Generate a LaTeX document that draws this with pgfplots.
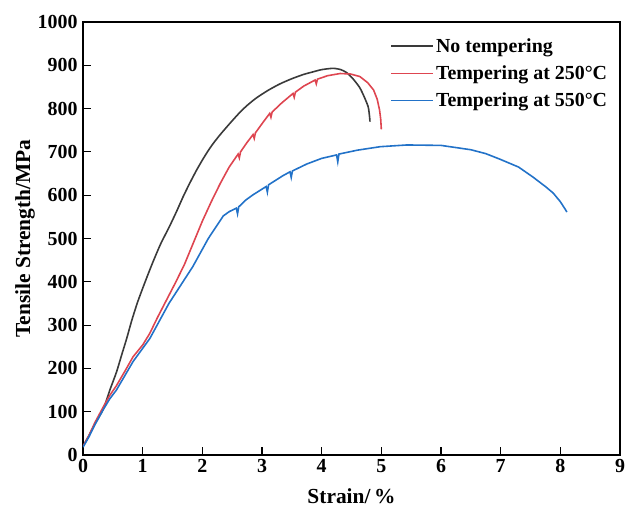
\documentclass[border=0pt]{standalone}
\usepackage{fontspec}
\setmainfont{Liberation Serif}
\usepackage{pgfplots}
\pgfplotsset{compat=1.18}
\definecolor{cblack}{HTML}{3A3A3A}
\definecolor{cred}{HTML}{DE4550}
\definecolor{cblue}{HTML}{2272C8}
\begin{document}
\begin{tikzpicture}
\useasboundingbox (-83bp,-55bp) rectangle (543bp,455bp);
\begin{axis}[
  scale only axis,
  width=537bp, height=433bp,
  xmin=0, xmax=9, ymin=0, ymax=1000,
  xtick={0,1,...,9}, ytick={0,100,...,1000},
  axis line style={line width=1.4pt, black},
  xtick style={line width=1.1pt, draw=black},
  ytick style={line width=1.1pt, draw=black},
  tick align=inside,
  major tick length=8bp,
  xtick pos=bottom,
  ytick pos=left,
  /pgf/number format/assume math mode=true,
  /pgf/number format/set thousands separator={},
  tick label style={font=\bfseries\fontsize{20}{22}\selectfont},
  xticklabel style={yshift=-1bp},
  yticklabel style={xshift=-2bp},
  xlabel={Strain/\,\%},
  ylabel={Tensile Strength/MPa},
  label style={font=\bfseries\fontsize{21.5}{24}\selectfont},
  xlabel style={at={(axis description cs:0.5,0)}, anchor=north, yshift=-30bp},
  ylabel style={at={(axis description cs:-0.108,0.5)}, anchor=center},
  legend style={at={(0.567,0.972)}, anchor=north west, draw=none, fill=none,
    font=\bfseries\fontsize{20}{22}\selectfont, row sep=8bp,
    cells={anchor=west}},
  legend image code/.code={\draw[#1, line width=1.4pt] (0bp,0bp) -- (42bp,0bp);},
]
\addplot[cblack, line width=1.6pt, smooth, tension=0.4] coordinates {
(0,20) (0.1,45) (0.2,72) (0.34,106) (0.45,150) (0.56,191) (0.65,232) (0.73,268)
(0.82,312) (0.92,355) (1.05,403) (1.17,445) (1.3,487) (1.45,528) (1.57,563)
(1.68,597) (1.79,628) (1.9,657) (2.0,681) (2.09,701) (2.18,719) (2.3,740)
(2.45,764) (2.6,787) (2.74,806) (2.9,824) (3.1,842) (3.3,857) (3.5,869)
(3.7,879) (3.86,885) (4.0,890) (4.19,893) (4.32,890) (4.42,883) (4.53,868)
(4.64,848) (4.72,825) (4.78,804) (4.80,785) (4.81,770)
};
\addlegendentry{No tempering}
\addplot[cred, line width=1.6pt] coordinates {
(0,20) (0.1,45) (0.2,75) (0.34,111) (0.45,138) (0.56,160) (0.7,193) (0.84,227)
(1.0,254) (1.12,281) (1.25,318) (1.40,358) (1.55,398) (1.7,440) (1.85,490)
(2.0,540) (2.15,585) (2.3,627) (2.45,665) (2.6,695) (2.62,686) (2.64,700)
(2.74,720) (2.85,740) (2.87,731) (2.89,744) (3.0,765) (3.13,789) (3.15,780)
(3.17,792) (3.33,813) (3.52,835) (3.54,826) (3.56,838) (3.7,852) (3.89,866)
(3.91,857) (3.93,868) (4.1,876) (4.31,881) (4.48,880) (4.64,874) (4.77,860)
(4.87,843) (4.93,822) (4.97,797) (4.99,775) (5.0,752)
};
\addlegendentry{Tempering at 250°C}
\addplot[cblue, line width=1.6pt] coordinates {
(0,18) (0.1,42) (0.2,70) (0.34,105) (0.45,130) (0.56,150) (0.7,183) (0.84,216)
(1.12,269) (1.44,350) (1.84,435) (2.1,500) (2.23,527) (2.35,552) (2.45,562)
(2.57,570) (2.59,557) (2.61,573) (2.72,588) (2.85,601) (3.07,620) (3.09,607)
(3.11,624) (3.35,645) (3.47,654) (3.49,641) (3.51,656) (3.75,672) (4.0,685)
(4.25,693) (4.27,677) (4.29,695) (4.6,704) (4.98,712) (5.43,716) (6.0,715)
(6.5,705) (6.75,696) (6.99,683) (7.3,665) (7.54,642) (7.75,620) (7.88,605)
(8.0,585) (8.08,568) (8.11,561)
};
\addlegendentry{Tempering at 550°C}
\end{axis}
\end{tikzpicture}
\end{document}
